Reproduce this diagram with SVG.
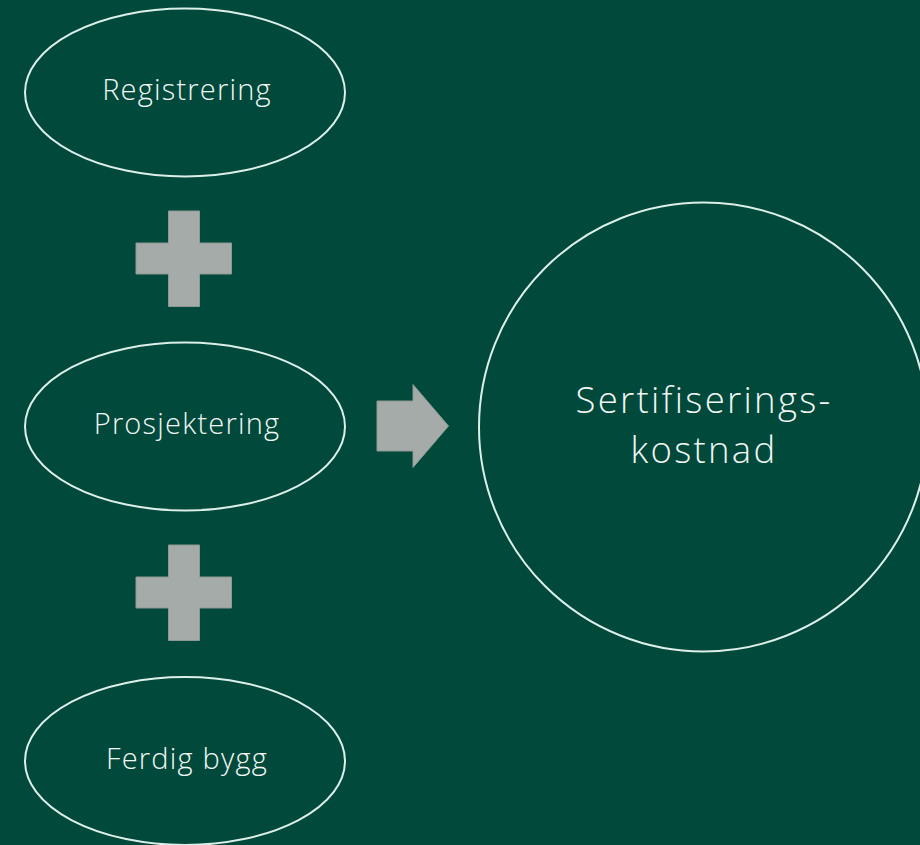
<svg xmlns="http://www.w3.org/2000/svg" width="920" height="845" viewBox="0 0 920 845">
<style>
.node{fill:none;stroke:#DCEFE8;stroke-width:2}
.lbl{font-family:"Open Sans","Liberation Sans",sans-serif;font-weight:300;fill:#F2F7F4;text-anchor:middle}
.sm{font-size:29px;letter-spacing:1.2px}
.big{font-size:36.5px;letter-spacing:2.3px}
.sym{fill:#A5ABA8;stroke:#8E9995;stroke-width:1}
</style>
<rect width="920" height="845" fill="#00493B"/>
<g id="registrering">
<ellipse class="node" cx="185" cy="92.5" rx="160" ry="84"/>
<text class="lbl sm" x="187" y="100">Registrering</text>
</g>
<g id="prosjektering">
<ellipse class="node" cx="185" cy="426.5" rx="160" ry="84"/>
<text class="lbl sm" x="187" y="434">Prosjektering</text>
</g>
<g id="ferdig-bygg">
<ellipse class="node" cx="185" cy="761" rx="160" ry="84"/>
<text class="lbl sm" x="187" y="769">Ferdig bygg</text>
</g>
<g id="sertifiseringskostnad">
<circle class="node" cx="703.5" cy="427" r="224.5"/>
<text class="lbl big"><tspan x="704" y="413">Sertifiserings-</tspan><tspan x="704" y="463">kostnad</tspan></text>
</g>
<g id="connectors">
<path class="sym" d="M168.5,211 H199.5 V243 H231.5 V274 H199.5 V306.5 H168.5 V274 H136 V243 H168.5 Z"/>
<path class="sym" d="M168.5,545 H199.5 V577 H231.5 V608 H199.5 V640.5 H168.5 V608 H136 V577 H168.5 Z"/>
<path class="sym" d="M377,401 H413 V384.5 L448.5,426 L413,467.5 V451 H377 Z"/>
</g>
</svg>
